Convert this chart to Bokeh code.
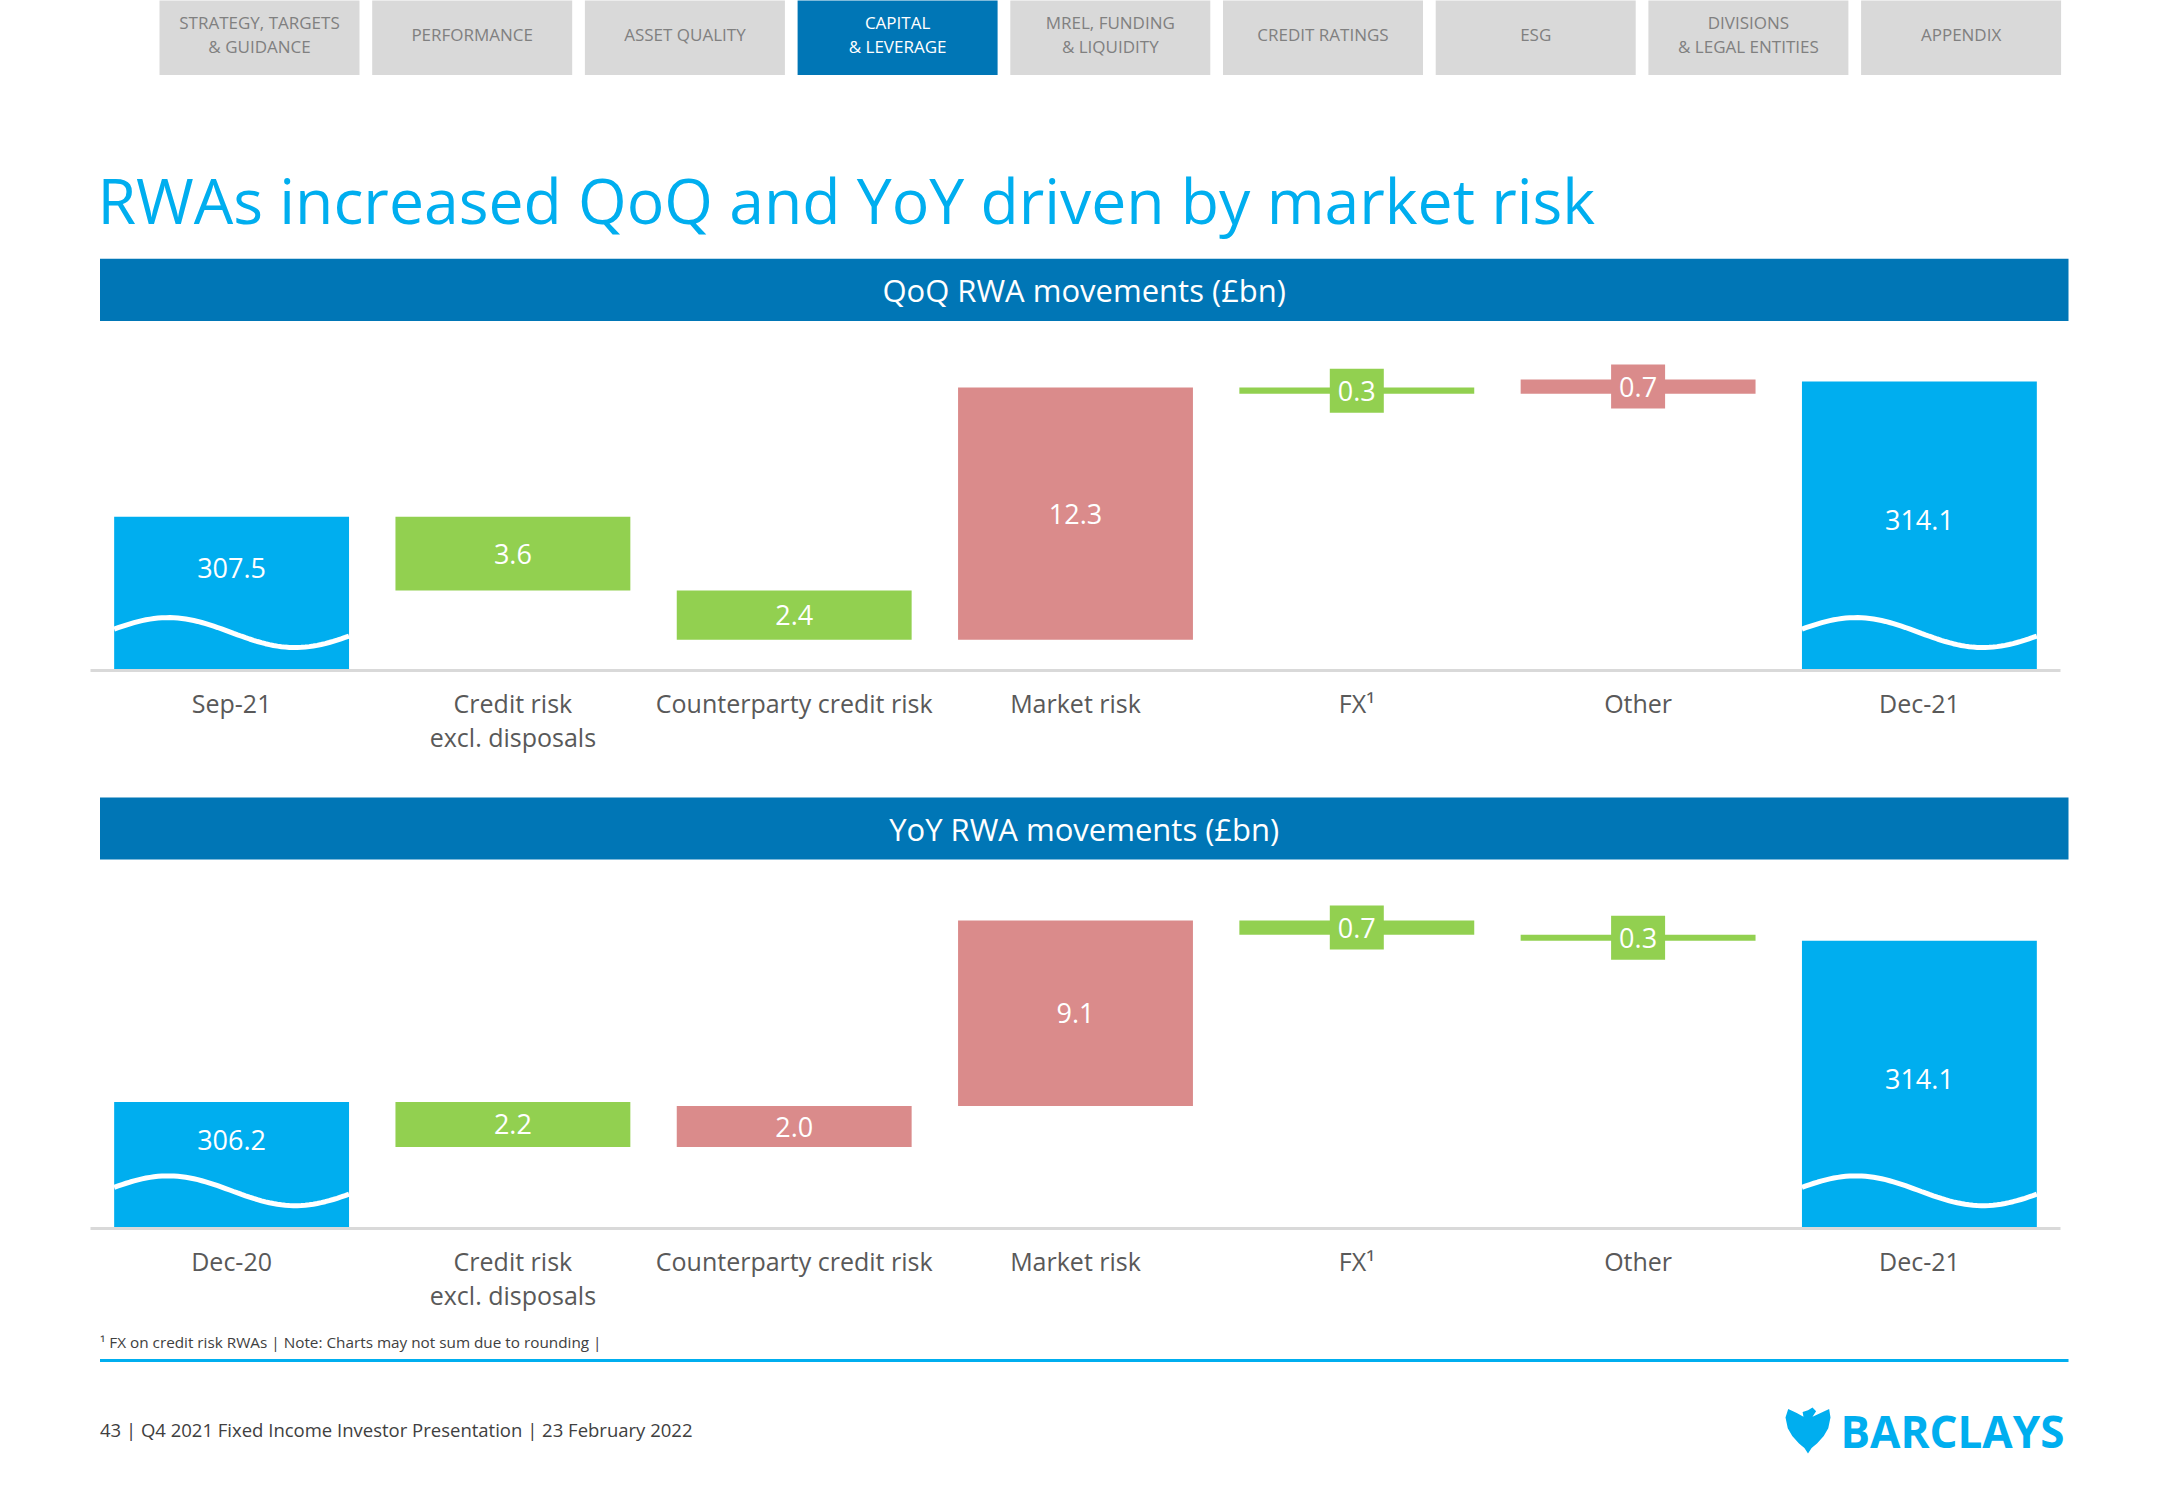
from bokeh.plotting import figure
from bokeh.models import Range1d, FactorRange, ColumnDataSource
from bokeh.layouts import column
from bokeh.embed import file_html
from bokeh.resources import INLINE
from bokeh.core.properties import value
import numpy as np

# ---------------- data ----------------
qoq_categories = ["Sep-21", "Credit risk\nexcl. disposals", "Counterparty credit risk",
                  "Market risk", "FX¹", "Other", "Dec-21"]
qoq_values = [307.5, -3.6, -2.4, 12.3, -0.3, 0.7, 314.1]

yoy_categories = ["Dec-20", "Credit risk\nexcl. disposals", "Counterparty credit risk",
                  "Market risk", "FX¹", "Other", "Dec-21"]
yoy_values = [306.2, -2.2, 2.0, 9.1, -0.7, -0.3, 314.1]

axis_floor = 300.0  # broken value axis starts here

nav_tabs = ["STRATEGY, TARGETS\n& GUIDANCE", "PERFORMANCE", "ASSET QUALITY",
            "CAPITAL\n& LEVERAGE", "MREL, FUNDING\n& LIQUIDITY", "CREDIT RATINGS",
            "ESG", "DIVISIONS\n& LEGAL ENTITIES", "APPENDIX"]
active_tab = "CAPITAL\n& LEVERAGE"
title_text = "RWAs increased QoQ and YoY driven by market risk"
qoq_header = "QoQ RWA movements (£bn)"
yoy_header = "YoY RWA movements (£bn)"
footnote_text = "¹ FX on credit risk RWAs | Note: Charts may not sum due to rounding |"
footer_text = "43  |  Q4 2021 Fixed Income Investor Presentation  |  23 February 2022"
brand_text = "BARCLAYS"

# ---------------- style ----------------
FONT = "Open Sans"
BLUE = "#00AEEF"
NAVY = "#0076B6"
GREEN = "#92D050"
RED = "#DA8B8B"
TAB_GRAY = "#D9D9D9"
TAB_TEXT = "#808080"
LABEL = "#595959"
PAGE_W = 2150
BAND = 281.3          # pixel width of one category band


def deco_fig(top, bottom):
    p = figure(width=PAGE_W, height=bottom - top,
               x_range=Range1d(0, PAGE_W), y_range=Range1d(bottom, top),
               output_backend="svg", toolbar_location=None, min_border=0,
               x_axis_location=None, y_axis_location=None)
    p.grid.visible = False
    p.outline_line_color = None
    p.background_fill_color = "white"
    p.border_fill_color = "white"
    return p


def banner(p, top, bottom, text):
    p.quad(left=[99.5], right=[2068], top=[top], bottom=[bottom],
           fill_color=NAVY, line_color=None)
    p.text(x=[1083.7], y=[(top + bottom) / 2], text=[text], text_color="white",
           text_font=value(FONT), text_font_size="31px",
           text_align="center", text_baseline="middle")


# ---------------- header ----------------
hdr = deco_fig(0, 340)
for i, t in enumerate(nav_tabs):
    left = 159 + i * 212.7
    active = (t == active_tab)
    hdr.quad(left=[left], right=[left + 200], top=[-5], bottom=[74.6],
             fill_color=NAVY if active else TAB_GRAY, line_color=None)
    lines = t.split("\n")
    ys = [34] if len(lines) == 1 else [22, 45.6]
    hdr.text(x=[left + 100] * len(lines), y=ys, text=lines,
             text_color="white" if active else TAB_TEXT,
             text_font=value(FONT), text_font_size="17px",
             text_align="center", text_baseline="middle")

hdr.text(x=[97], y=[199], text=[title_text], text_color=BLUE,
         text_font=value(FONT), text_font_size="62.5px",
         text_align="left", text_baseline="middle")
banner(hdr, 258.3, 320.5, qoq_header)


# ---------------- waterfall charts ----------------
def waterfall(cats, vals, top_page, frame_bottom_page, bottom_page, px_per_unit):
    frame_h = frame_bottom_page - top_page
    y_end = axis_floor + frame_h / px_per_unit
    n = len(cats)
    pad_each_side = (PAGE_W - n * BAND) / BAND / 2
    p = figure(width=PAGE_W, height=bottom_page - top_page,
               x_range=FactorRange(factors=cats, range_padding=pad_each_side,
                                   range_padding_units="absolute", factor_padding=0),
               y_range=Range1d(axis_floor, y_end),
               output_backend="svg", toolbar_location=None,
               min_border_left=0, min_border_right=0, min_border_top=0,
               min_border_bottom=bottom_page - frame_bottom_page,
               y_axis_location=None)
    p.grid.visible = False
    p.outline_line_color = None
    p.background_fill_color = "white"
    p.border_fill_color = "white"

    lo, hi, colors, label_y, labels = [], [], [], [], []
    running = vals[0]
    for i, v in enumerate(vals):
        if i == 0 or i == n - 1:
            b, t = axis_floor, v
            colors.append(BLUE)
            label_y.append((v + axis_floor) / 2 + (1.25 if i == 0 else 0.3))
            running = v
        else:
            b, t = running, running + v
            running = t
            colors.append(RED if v > 0 else GREEN)
            label_y.append((b + t) / 2)
        lo.append(min(b, t))
        hi.append(max(b, t))
        labels.append(f"{abs(v):.1f}")

    src = ColumnDataSource(dict(cat=cats, lo=lo, hi=hi, color=colors,
                                ly=label_y, label=labels))
    p.vbar(x="cat", bottom="lo", top="hi", width=0.835, fill_color="color",
           line_color=None, source=src)

    # white wave across the totals (broken axis marker)
    xs, ys = [], []
    f = np.linspace(0, 1, 60)
    for i in (0, n - 1):
        xs.append(list(i + 0.5 - 0.4175 + f * 0.835))
        ys.append(list(axis_floor + 1.85 + 0.73 * np.cos(2 * np.pi * (f - 0.23) / 1.08)))
    p.multi_line(xs=xs, ys=ys, line_color="white", line_width=5)

    # boxes behind small labels
    small = [i for i, v in enumerate(vals) if abs(v) < 1 and 0 < i < n - 1]
    p.rect(x=[cats[i] for i in small], y=[label_y[i] for i in small],
           width=54, height=44, width_units="screen", height_units="screen",
           fill_color=[colors[i] for i in small], line_color=None)

    p.text(x="cat", y="ly", text="label", source=src, text_color="white",
           text_font=value(FONT), text_font_size="27px",
           text_align="center", text_baseline="middle")

    xa = p.xaxis[0]
    xa.bounds = (0, n)
    xa.axis_line_color = "#D9D9D9"
    xa.axis_line_width = 3
    xa.major_tick_line_color = None
    xa.minor_tick_line_color = None
    xa.major_label_text_font = FONT
    xa.major_label_text_font_size = "25px"
    xa.major_label_text_color = LABEL
    xa.major_label_standoff = 9
    xa.major_label_text_line_height = 1.0
    return p


qoq = waterfall(qoq_categories, qoq_values, 340, 670, 780, 20.5)

mid = deco_fig(780, 890)
banner(mid, 797, 859, yoy_header)

yoy = waterfall(yoy_categories, yoy_values, 890, 1228, 1330, 20.4)

# ---------------- footer ----------------
ftr = deco_fig(1330, 1475)
ftr.text(x=[99.5], y=[1341], text=[footnote_text], text_color="#404040",
         text_font=value(FONT), text_font_size="15.3px",
         text_align="left", text_baseline="middle")
ftr.segment(x0=[99.5], y0=[1360], x1=[2068], y1=[1360], line_color=BLUE, line_width=3)
ftr.text(x=[99.5], y=[1429], text=[footer_text], text_color="#404040",
         text_font=value(FONT), text_font_size="18.5px",
         text_align="left", text_baseline="middle")

# eagle emblem (simplified silhouette)
eagle_u = [0.50, 0.60, 0.68, 0.60, 0.78, 0.97, 1.00, 0.95, 0.85, 0.70, 0.58, 0.50,
           0.42, 0.30, 0.15, 0.05, 0.00, 0.06, 0.25, 0.40, 0.38]
eagle_v = [0.06, 0.00, 0.08, 0.20, 0.12, 0.03, 0.22, 0.45, 0.62, 0.78, 0.88, 1.00,
           0.88, 0.78, 0.62, 0.45, 0.22, 0.03, 0.12, 0.20, 0.10]
ftr.patch(x=[1785 + 45 * u for u in eagle_u], y=[1407 + 46 * v for v in eagle_v],
          fill_color=BLUE, line_color=None)
ftr.text(x=[1840], y=[1430], text=[brand_text], text_color=BLUE,
         text_font=value(FONT), text_font_size="44px", text_font_style="bold",
         text_align="left", text_baseline="middle")

layout = column(hdr, qoq, mid, yoy, ftr, spacing=0)
open("out.html", "w").write(file_html(layout, INLINE))
